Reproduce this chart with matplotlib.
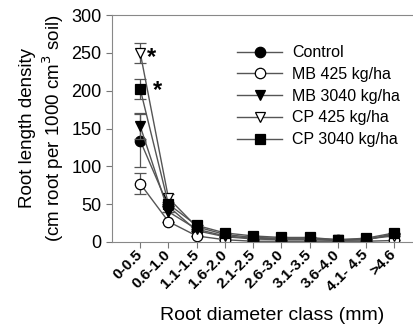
import numpy as np
import matplotlib.pyplot as plt
from matplotlib.transforms import ScaledTranslation

plt.rcParams['font.family'] = ['Liberation Sans', 'DejaVu Sans']

# Root diameter classes
classes = ['0-0.5', '0.6-1.0', '1.1-1.5', '1.6-2.0', '2.1-2.5', '2.6-3.0',
           '3.1-3.5', '3.6-4.0', '4.1- 4.5', '>4.6']

# Root length density per treatment
control = [134, 47, 15, 7, 4, 3, 3, 2, 3, 10]
mb425 = [77, 27, 8, 3, 1, 1, 1, 1, 1, 2]
mb3040 = [153, 40, 17, 8, 5, 4, 4, 3, 3, 11]
cp425 = [250, 58, 20, 10, 6, 5, 5, 3, 4, 8]
cp3040 = [202, 50, 22, 12, 8, 6, 6, 3, 5, 12]

# Error bars (only visible on first class)
control_err = [35, 0, 0, 0, 0, 0, 0, 0, 0, 0]
mb425_err = [14, 0, 0, 0, 0, 0, 0, 0, 0, 0]
mb3040_err = [17, 0, 0, 0, 0, 0, 0, 0, 0, 0]
cp425_err = [13, 5, 0, 0, 0, 0, 0, 0, 0, 0]
cp3040_err = [13, 0, 0, 0, 0, 0, 0, 0, 0, 0]

x = np.arange(len(classes))

fig = plt.figure(figsize=(4.14, 3.30), dpi=100)
ax = fig.add_axes([112 / 414, 88 / 330, 302 / 414, 227 / 330])

series = [
    ('Control', control, control_err, 'o', 'black'),
    ('MB 425 kg/ha', mb425, mb425_err, 'o', 'white'),
    ('MB 3040 kg/ha', mb3040, mb3040_err, 'v', 'black'),
    ('CP 425 kg/ha', cp425, cp425_err, 'v', 'white'),
    ('CP 3040 kg/ha', cp3040, cp3040_err, 's', 'black'),
]

for label, vals, err, m, fc in series:
    ax.errorbar(x, vals, yerr=err, fmt='none', ecolor='#555555',
                elinewidth=0.9, capsize=4, capthick=0.9)
    ax.plot(x, vals, color='#555555', lw=1.0, marker=m, markersize=7.5,
            markerfacecolor=fc, markeredgecolor='black', markeredgewidth=0.9,
            label=label)

# significance asterisks
ax.text(x[0] + 0.25, cp425[0] - 6, '*', fontsize=17, fontweight='bold',
        va='center', ha='left')
ax.text(x[0] + 0.45, cp3040[0] - 2, '*', fontsize=17, fontweight='bold',
        va='center', ha='left')

ax.set_xlim(-1, 9.7)
ax.set_ylim(0, 300)
ax.set_yticks(np.arange(0, 301, 50))
ax.set_xticks(x)
ax.set_xticklabels(classes, rotation=45, ha='right', va='center',
                   rotation_mode='anchor', fontsize=11, fontweight='semibold')
# nudge tick labels so their ends sit just right of the ticks
for t in ax.get_xticklabels():
    t.set_transform(t.get_transform() + ScaledTranslation(4 / 72, -8 / 72, fig.dpi_scale_trans))
ax.tick_params(axis='y', labelsize=13, direction='out', length=4, color='#777777')
ax.tick_params(axis='x', direction='out', length=4, color='#777777')

for s in ['left', 'bottom', 'top']:
    ax.spines[s].set_color('#888888')
ax.spines['right'].set_visible(False)

ax.set_xlabel('Root diameter class (mm)', fontsize=14)
ax.xaxis.set_label_coords(0.53, -0.285)
ax.set_ylabel('Root length density\n(cm root per 1000 cm$^3$ soil)',
              fontsize=13.5, labelpad=4)

leg = ax.legend(loc='upper right', bbox_to_anchor=(1.0, 0.93), frameon=False,
                fontsize=11.5, handlelength=2.8, labelspacing=0.42,
                handletextpad=0.6)

fig.savefig('out.png', dpi=100)
